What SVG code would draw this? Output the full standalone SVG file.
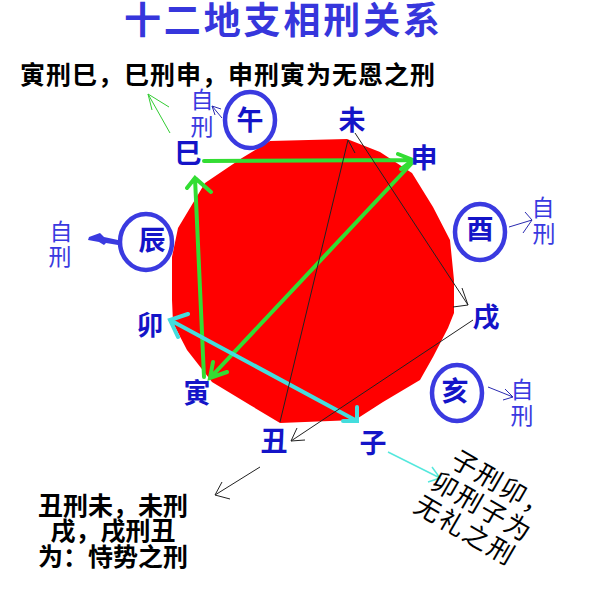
<svg xmlns="http://www.w3.org/2000/svg" width="600" height="600" viewBox="0 0 600 600">
<style>
text{font-family:"Noto Sans CJK SC","Noto Sans",sans-serif}
.title{font-size:37px;font-weight:bold;fill:#3636dc}
.note{font-size:25px;font-weight:bold;fill:#000}
.note2{font-size:25px;font-weight:bold;fill:#000;text-anchor:middle}
.rot{font-size:26px;fill:#000;letter-spacing:2px}
.lbl{font-size:27px;font-weight:bold;fill:#1414c8;text-anchor:middle}
.self{font-size:23px;fill:#3a3ae0;text-anchor:middle}
.ring{fill:#fff;stroke:#3a3ae0;stroke-width:4.5}
.g{stroke:#33dd33;stroke-width:4;fill:none;stroke-linecap:round}
.c{stroke:#44dddd;stroke-width:4;fill:none;stroke-linecap:round}
.k{stroke:#222;stroke-width:1;fill:none}
.b{stroke:#2a2ab0;stroke-width:1;fill:none}
.gt{stroke:#33cc33;stroke-width:1;fill:none}
.ct{stroke:#55e8dd;stroke-width:1.5;fill:none}
</style>
<rect width="600" height="600" fill="#fff"/>
<text class="title" x="124" y="34" textLength="316" lengthAdjust="spacing">十二地支相刑关系</text>
<text class="note" x="20" y="84" textLength="415" lengthAdjust="spacing">寅刑巳，巳刑申，申刑寅为无恩之刑</text>
<polygon id="disc" fill="#ff0000" points="270,141 347,139 380,152 412,173 433,207 450,240 454,280 454,313 448,328 433,357 420,380 383,402 355,420 280,423 250,405 212,382 187,350 173,323 172,300 172,257 178,228 193,203 205,183 242,158"/>
<g id="connectors">
  <path class="g" d="M204,161 L413,160 M398,154 L413,160 L401,169"/>
  <path class="g" d="M412,163 L210,378 M213,362 L210,378 L227,372"/>
  <path class="g" d="M204,377 L195,178 M187,188 L195,178 L211,192"/>
  <path class="c" d="M170,320 L357,421 M188,314 L170,320 L178,337 M357,407 L357,421 L343,421"/>
  <path class="k" d="M280,422 L348,140 L355,153"/>
  <path class="k" d="M355,133 L468,305 M462,288 L468,305 L453,307"/>
  <path class="k" d="M473,320 L291,441 M297,428 L291,441 L305,440"/>
  <path class="k" d="M260,467 L215,495 M222,482 L215,495 L230,499"/>
  <path class="ct" d="M388,452 L440,478 M432,467 L440,478 L428,482"/>
  <path class="gt" d="M170,133 L148,94 L152,110 M148,94 L169,107"/>
  <path class="b" d="M222,118 L212,106 L221,109 M212,106 L215,115"/>
  <path class="b" d="M509,227 L532,220 L525,212 M532,220 L523,233"/>
  <path class="b" d="M488,387 L513,397 L505,389 M513,397 L503,400"/>
  <path fill="#3a3ae0" d="M118,240 L104,237 L100,233 L89,237 L88,240 L99,242 L104,245 L106,243 L118,245 Z"/>
</g>
<g id="wu"><ellipse class="ring" cx="250" cy="120" rx="25" ry="28"/><text class="lbl" x="250" y="130">午</text></g>
<g id="wu-self"><text class="self" x="202" y="108">自</text><text class="self" x="202" y="135">刑</text></g>
<g id="you"><ellipse class="ring" cx="480" cy="232" rx="25" ry="28"/><text class="lbl" x="480" y="239">酉</text></g>
<g id="you-self"><text class="self" x="543" y="216">自</text><text class="self" x="544" y="242">刑</text></g>
<g id="hai"><ellipse class="ring" cx="457" cy="393" rx="25" ry="28"/><text class="lbl" x="455" y="401">亥</text></g>
<g id="hai-self"><text class="self" x="522" y="398">自</text><text class="self" x="522" y="424">刑</text></g>
<g id="chen"><ellipse class="ring" cx="146" cy="242" rx="26" ry="28"/><text class="lbl" x="152" y="250">辰</text></g>
<g id="chen-self"><text class="self" x="61" y="240">自</text><text class="self" x="60" y="265">刑</text></g>
<g id="si"><text class="lbl" x="188" y="163">巳</text></g>
<g id="wei"><text class="lbl" x="352" y="130">未</text></g>
<g id="shen"><text class="lbl" x="424" y="168">申</text></g>
<g id="xu"><text class="lbl" x="486" y="327">戌</text></g>
<g id="zi"><text class="lbl" x="373" y="453">子</text></g>
<g id="chou"><text class="lbl" x="274" y="451">丑</text></g>
<g id="yin"><text class="lbl" x="197" y="403">寅</text></g>
<g id="mao"><text class="lbl" x="150" y="335">卯</text></g>
<g id="note-chou">
  <text class="note2" x="113" y="515">丑刑未，未刑</text>
  <text class="note2" x="113" y="540">戌，戌刑丑</text>
  <text class="note2" x="113" y="566">为：恃势之刑</text>
</g>
<g id="note-zi" transform="translate(429,487) rotate(30)">
  <text class="rot" x="6" y="-29">子刑卯，</text>
  <text class="rot" x="0" y="0">卯刑子为</text>
  <text class="rot" x="-3" y="29">无礼之刑</text>
</g>
</svg>
